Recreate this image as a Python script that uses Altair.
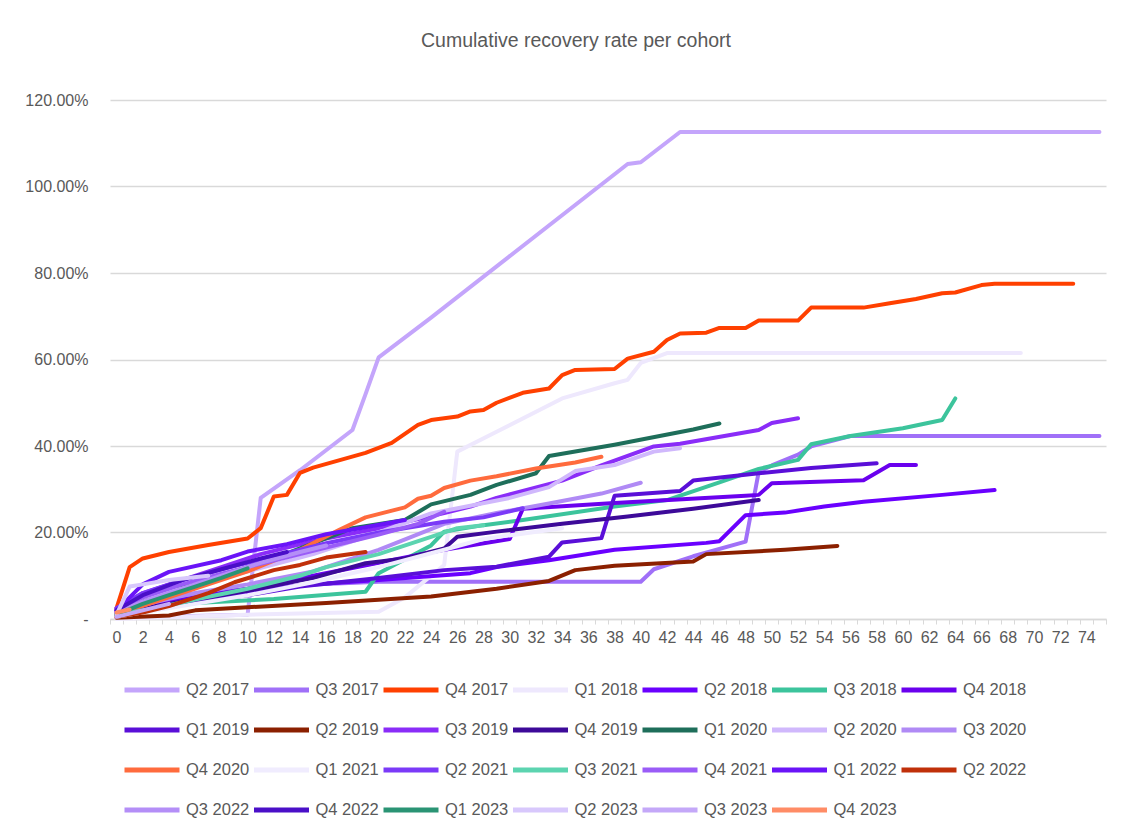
import altair as alt
import pandas as pd

cohorts = ["Q2 2017", "Q3 2017", "Q4 2017", "Q1 2018", "Q2 2018", "Q3 2018", "Q4 2018",
           "Q1 2019", "Q2 2019", "Q3 2019", "Q4 2019", "Q1 2020", "Q2 2020", "Q3 2020",
           "Q4 2020", "Q1 2021", "Q2 2021", "Q3 2021", "Q4 2021", "Q1 2022", "Q2 2022",
           "Q3 2022", "Q4 2022", "Q1 2023", "Q2 2023", "Q3 2023", "Q4 2023"]

colors = ["#C4A5FB", "#A070F8", "#FF4000", "#EEE8FD", "#6A00FF", "#3CC49C", "#6A00EE",
          "#5A0FD8", "#8B2000", "#8A2CF8", "#3D0A99", "#1E6E5A", "#D0B8FC", "#B08AF5",
          "#FF6B3D", "#F0ECFE", "#7B3AF8", "#5CD4B0", "#9A5CF7", "#6A14F8", "#C0300A",
          "#B48EF7", "#4A0FC8", "#2A9474", "#D8C8FC", "#C4A8F8", "#FF8C66"]

# (month, cumulative recovery %) vertices
q2_2017 = [(0, 0.3), (4, 0.6), (10, 1.0), (11, 28.0), (14, 34.4), (18, 43.7), (19, 52.0),
           (20, 60.5), (24, 69.7), (39, 105.2), (40, 105.6), (43, 112.6), (75, 112.6)]
q3_2017 = [(0, 2.0), (2, 4.0), (5, 5.5), (10, 7.0), (15, 8.0), (20, 8.6), (40, 8.6),
           (41, 11.5), (44, 14.5), (48, 17.9), (49, 34.0), (50, 35.5), (52, 38.0),
           (53, 39.9), (56, 42.3), (75, 42.3)]
q4_2017 = [(0, 2.5), (1, 12.0), (2, 14.0), (4, 15.5), (7, 17.1), (10, 18.6), (11, 21.0),
           (12, 28.3), (13, 28.7), (14, 33.8), (15, 35.0), (19, 38.4), (21, 40.7),
           (23, 44.9), (24, 46.0), (26, 46.8), (27, 48.0), (28, 48.3), (29, 50.0),
           (31, 52.3), (33, 53.3), (34, 56.4), (35, 57.6), (38, 57.8), (39, 60.2),
           (41, 61.8), (42, 64.5), (43, 66.0), (45, 66.2), (46, 67.3), (48, 67.3),
           (49, 69.0), (52, 69.0), (53, 72.0), (57, 72.0), (59, 73.0), (61, 74.0),
           (63, 75.3), (64, 75.5), (66, 77.2), (67, 77.5), (73, 77.5)]
q1_2018 = [(0, 0.0), (5, 0.5), (10, 1.0), (20, 1.7), (22, 5.0), (25, 12.5), (26, 38.7),
           (29, 43.3), (34, 51.0), (38, 54.5), (39, 55.3), (40, 59.2), (42, 61.5), (69, 61.5)]
q2_2018 = [(0, 1.5), (2, 3.0), (5, 4.5), (10, 6.0), (14, 7.8), (20, 9.0), (27, 10.6),
           (29, 12.0), (33, 13.6), (38, 16.0), (45, 17.6), (46, 18.0), (48, 24.0),
           (51, 24.6), (54, 26.0), (57, 27.1), (63, 28.7), (67, 29.8)]
q3_2018 = [(0, 1.0), (3, 2.5), (6, 3.7), (12, 4.6), (19, 6.3), (20, 10.6), (24, 17.0),
           (25, 20.2), (28, 21.7), (31, 22.9), (38, 26.0), (42, 27.5), (46, 31.6),
           (49, 34.7), (52, 36.8), (53, 40.4), (56, 42.3), (60, 44.1), (63, 46.0), (64, 51.0)]
q4_2018 = [(0, 1.5), (3, 3.5), (6, 5.0), (10, 7.0), (15, 10.0), (20, 13.0), (25, 16.0),
           (30, 18.5), (31, 25.5), (38, 26.8), (48, 28.5), (49, 28.7), (50, 31.4),
           (57, 32.1), (59, 35.6), (61, 35.6)]
q1_2019 = [(0, 1.0), (3, 2.5), (6, 4.0), (10, 5.5), (14, 7.5), (20, 9.5), (25, 11.3),
           (29, 12.1), (33, 14.4), (34, 17.7), (37, 18.7), (38, 28.5), (43, 29.6),
           (44, 32.0), (49, 33.7), (53, 34.9), (58, 36.0)]
q2_2019 = [(0, 0.3), (4, 0.8), (6, 2.0), (10, 2.7), (16, 3.7), (24, 5.2), (29, 7.0),
           (33, 8.8), (35, 11.3), (38, 12.3), (44, 13.3), (45, 15.0), (51, 16.0), (55, 16.9)]
q3_2019 = [(0, 2.5), (2, 6.0), (5, 9.0), (8, 12.0), (11, 15.0), (15, 18.0), (20, 21.0),
           (25, 24.5), (27, 26.0), (29, 28.0), (34, 32.0), (37, 35.5), (41, 39.9),
           (43, 40.5), (49, 43.7), (50, 45.3), (52, 46.4)]
q4_2019 = [(0, 1.0), (3, 3.0), (6, 4.5), (10, 6.5), (15, 9.5), (19, 12.9), (22, 14.0),
           (25, 16.3), (26, 19.0), (29, 20.2), (34, 22.0), (39, 23.7), (44, 25.5), (49, 27.5)]
q1_2020 = [(0, 2.0), (2, 4.5), (5, 7.5), (8, 10.0), (12, 14.0), (15, 17.5), (18, 21.0),
           (22, 22.9), (24, 26.5), (27, 28.7), (29, 31.0), (32, 33.7), (33, 37.7),
           (38, 40.3), (44, 43.8), (46, 45.2)]
q2_2020 = [(0, 1.0), (2, 5.0), (5, 7.0), (10, 11.0), (15, 15.0), (20, 20.0), (24, 24.4),
           (30, 28.0), (33, 30.5), (35, 34.2), (38, 35.6), (41, 38.7), (43, 39.5)]
q3_2020 = [(0, 1.5), (3, 4.0), (6, 6.0), (10, 8.0), (15, 11.0), (20, 16.0), (25, 22.0),
           (29, 24.5), (33, 26.7), (37, 29.0), (40, 31.5)]
q4_2020 = [(0, 1.0), (3, 4.0), (6, 7.0), (10, 11.0), (14, 16.0), (17, 20.6), (19, 23.5),
           (22, 25.8), (23, 27.8), (24, 28.5), (25, 30.3), (27, 32.0), (29, 33.0),
           (32, 34.8), (35, 36.2), (37, 37.5)]
q1_2021 = [(0, 0.5), (3, 2.0), (6, 3.5), (10, 5.5), (15, 8.5), (20, 12.0), (25, 16.0),
           (28, 18.5), (34, 21.0)]
q2_2021 = [(0, 2.5), (2, 6.0), (5, 9.0), (8, 11.5), (12, 14.5), (16, 17.5), (20, 20.0),
           (25, 22.5), (28, 23.5), (31, 25.6)]
q3_2021 = [(0, 1.0), (3, 2.5), (6, 4.5), (10, 7.0), (14, 10.0), (16, 12.0), (20, 15.0),
           (24, 19.0), (26, 21.0), (28, 21.7)]
q4_2021 = [(0, 2.0), (2, 5.0), (5, 8.0), (8, 10.5), (12, 13.5), (16, 16.5), (20, 19.5),
           (23, 22.0), (25, 24.8)]
q1_2022 = [(0, 2.0), (1, 5.0), (2, 8.0), (4, 10.9), (8, 13.6), (10, 15.6), (13, 17.3),
           (16, 19.6), (19, 21.2), (22, 22.9)]
q2_2022 = [(0, 0.5), (2, 1.5), (4, 3.0), (7, 6.0), (9, 8.5), (12, 11.3), (14, 12.5),
           (16, 14.2), (19, 15.5)]
q3_2022 = [(0, 1.5), (2, 4.0), (5, 7.0), (8, 10.0), (11, 13.0), (14, 15.5), (16, 17.0)]
q4_2022 = [(0, 2.0), (2, 5.5), (5, 9.0), (8, 11.5), (11, 14.0), (13, 15.5)]
q1_2023 = [(0, 1.0), (2, 3.5), (4, 5.5), (6, 7.5), (8, 9.5), (10, 11.7)]
q2_2023 = [(0, 1.0), (1, 7.5), (2, 8.0), (4, 9.0), (7, 10.0)]
q3_2023 = [(0, 0.5), (2, 2.0), (4, 3.5)]
q4_2023 = [(0, 1.5), (1, 2.2)]

series = [q2_2017, q3_2017, q4_2017, q1_2018, q2_2018, q3_2018, q4_2018, q1_2019,
          q2_2019, q3_2019, q4_2019, q1_2020, q2_2020, q3_2020, q4_2020, q1_2021,
          q2_2021, q3_2021, q4_2021, q1_2022, q2_2022, q3_2022, q4_2022, q1_2023,
          q2_2023, q3_2023, q4_2023]

months = list(range(76))
y_ticks = [0, 0.2, 0.4, 0.6, 0.8, 1.0, 1.2]

rows = []
for idx, (name, pts) in enumerate(zip(cohorts, series)):
    for m, v in pts:
        rows.append({"cohort": name, "month": m, "rate": v / 100.0, "k": idx})
df = pd.DataFrame(rows)

gray = "#595959"
font = "Liberation Sans"

chart = alt.Chart(df).mark_line(
    strokeWidth=4, strokeCap="round", strokeJoin="round"
).encode(
    x=alt.X("month:O",
            scale=alt.Scale(type="band", domain=months, paddingInner=0, paddingOuter=0),
            bandPosition=0.5,
            axis=alt.Axis(title=None, tickBand="extent", labelAngle=0,
                          labelExpr="datum.value % 2 == 0 ? datum.label : ''",
                          labelOverlap=False, tickSize=5, tickColor="#D9D9D9",
                          domainColor="#D9D9D9", domainWidth=1.5, labelPadding=5,
                          labelFontSize=16, labelColor=gray, labelFont=font, grid=False)),
    y=alt.Y("rate:Q",
            scale=alt.Scale(domain=[0, 1.2], nice=False, zero=True),
            axis=alt.Axis(title=None, values=y_ticks, ticks=False, domain=False,
                          labelExpr="datum.value == 0 ? '-' : format(datum.value, '.2%')",
                          labelPadding=22, labelFontSize=16, labelColor=gray, labelFont=font,
                          grid=True, gridColor="#D9D9D9", gridWidth=1.5)),
    color=alt.Color("cohort:N",
                    scale=alt.Scale(domain=cohorts, range=colors),
                    legend=alt.Legend(title=None, orient="none", legendX=12, legendY=560,
                                      direction="horizontal", columns=7,
                                      symbolType="stroke", symbolSize=3025,
                                      symbolStrokeWidth=5, labelFontSize=16.5,
                                      labelColor=gray, labelFont=font, labelOffset=4,
                                      columnPadding=-6.5, rowPadding=0, gridAlign="all",
                                      labelLimit=200)),
    order=alt.Order("month:Q"),
).properties(
    width=996,
    height=519,
    title=alt.TitleParams("Cumulative recovery rate per cohort", fontSize=19.5,
                          font=font, color=gray, fontWeight="normal", anchor="middle",
                          dx=-32, offset=41),
    autosize=alt.AutoSizeParams(type="none"),
    padding={"left": 102, "top": 92, "right": 17, "bottom": 200},
).configure_view(stroke=None)

chart.save("out.html", embed_options={"renderer": "svg", "actions": False})
